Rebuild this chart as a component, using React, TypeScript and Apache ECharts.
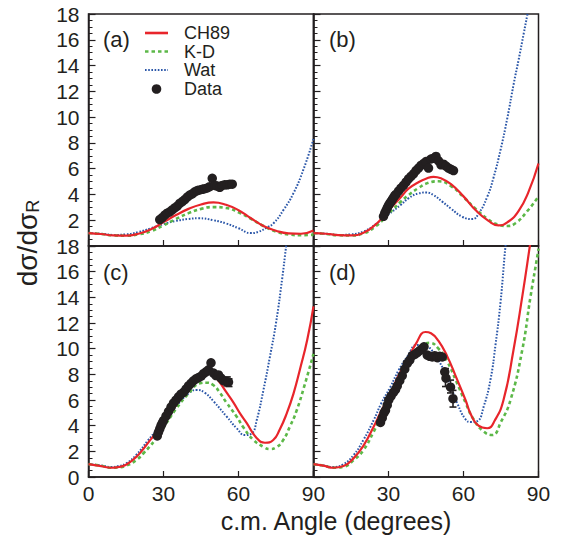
import React, { useEffect, useRef } from 'react';
import * as echarts from 'echarts';

// Panel (a)
const ch89A = [[0,1.0],[5,0.93],[10,0.82],[15,0.8],[20,0.95],[25,1.3],[30,1.85],[35,2.4],[40,2.88],[45,3.22],[50,3.38],[55,3.2],[60,2.78],[65,2.15],[70,1.55],[75,1.18],[80,0.98],[85,0.95],[90,1.2]];
const kdA = [[0,1.0],[5,0.93],[10,0.82],[15,0.8],[20,0.9],[25,1.15],[30,1.6],[35,2.1],[40,2.55],[45,2.88],[50,3.02],[55,2.95],[60,2.62],[65,2.1],[70,1.55],[75,1.12],[80,0.9],[85,0.84],[90,0.88]];
const watA = [[0,1.0],[5,0.95],[10,0.86],[15,0.9],[20,1.08],[25,1.38],[30,1.7],[35,1.95],[40,2.1],[44,2.15],[50,2.0],[55,1.75],[60,1.38],[65,1.0],[68,1.1],[71,1.4],[74,1.76],[78,2.8],[82,4.1],[86,5.95],[90,8.3]];
const dataA = [[28.5,2.05],[29.5,2.2],[30.5,2.4],[31.5,2.55],[32.5,2.65],[33.5,2.8],[34.5,2.95],[35.5,3.1],[36.5,3.3],[37.5,3.45],[38.5,3.6],[39.5,3.8],[40.5,3.95],[41.5,4.05],[42.5,4.2],[43.5,4.3],[44.5,4.35],[45.5,4.4],[46.5,4.45],[47.5,4.5],[48.5,4.6],[49.5,5.25],[50.5,4.7],[51.5,4.65],[52.5,4.55],[53.5,4.7],[54.5,4.75],[55.5,4.75],[56.5,4.8],[57.5,4.8]];
const errA: number[][] = [];

// Panel (b)
const ch89B = [[0,1.0],[5,0.95],[10,0.85],[15,0.83],[20,1.02],[25,1.7],[27.5,2.2],[30,2.75],[35,3.8],[38,4.45],[42,4.95],[45,5.22],[48,5.37],[51,5.25],[55,4.8],[60,3.85],[65,2.75],[70,1.95],[74,1.6],[78,1.9],[82,2.7],[86,4.2],[90,6.4]];
const kdB = [[0,1.0],[5,0.93],[10,0.83],[15,0.82],[20,0.98],[25,1.55],[30,2.5],[35,3.45],[38,3.95],[42,4.5],[46,4.9],[50,5.02],[55,4.65],[60,3.8],[65,2.85],[70,2.05],[74,1.65],[77.5,1.55],[81,1.8],[85.5,2.7],[90,3.85]];
const watB = [[0,1.0],[5,0.95],[10,0.86],[15,0.9],[20,1.12],[25,1.7],[30,2.45],[35,3.2],[38,3.7],[42,4.08],[45,4.15],[48,3.95],[51.5,3.44],[55,2.9],[59.5,2.27],[63.5,2.09],[66,2.5],[69.5,3.82],[72,5.3],[74.8,7.44],[77.5,9.9],[80.1,12.6],[82,14.4],[84.1,16.5],[85.5,17.9],[87,19.4]];
const dataB = [[28,2.3],[28.5,2.55],[29,2.75],[29.5,2.95],[30,3.15],[30.5,3.3],[31,3.45],[31.5,3.6],[32,3.75],[32.5,3.9],[33,4.0],[34,4.25],[35,4.5],[36,4.7],[37,4.95],[38,5.2],[39,5.4],[40,5.6],[41,5.85],[42,6.05],[43,6.25],[44,6.4],[45,6.55],[46,6.05],[47,6.75],[48,6.8],[49,6.95],[50,6.6],[51,6.3],[52,6.35],[53,6.2],[54,6.05],[55,5.95],[56,5.85]];
const errB: number[][] = [];

// Panel (c)
const ch89C = [[0,1.0],[5,0.85],[9,0.72],[12,0.78],[15,0.95],[19,1.55],[22,2.2],[25,2.95],[28,3.6],[30,4.1],[35,5.6],[40,6.9],[45,7.8],[49,8.1],[52,7.5],[55,6.65],[58,5.8],[60.6,4.96],[63.3,4.2],[67,3.1],[70.6,2.67],[73.9,2.88],[76.5,3.7],[79.3,4.96],[82,6.5],[84.6,8.4],[87.5,10.7],[90,13.3]];
const kdC = [[0,1.0],[5,0.88],[9,0.72],[12,0.75],[15,0.88],[19,1.3],[22,1.85],[26.6,2.88],[30,3.85],[35,5.3],[40,6.5],[44.6,7.3],[47,7.35],[50,7.15],[52.6,6.55],[55,5.85],[59.3,4.7],[62,3.85],[65.9,2.9],[70,2.35],[72.6,2.18],[75,2.3],[77.9,2.88],[80.5,3.9],[83.3,5.2],[86.5,7.2],[90,9.6]];
const watC = [[0,1.0],[5,0.9],[9,0.78],[12,0.85],[15,1.05],[19,1.7],[23.9,2.88],[27,3.6],[30,4.3],[35,5.5],[40.6,6.6],[43.3,6.78],[46.6,6.55],[50,5.9],[55.3,4.7],[59.3,3.79],[62.6,3.27],[65.3,3.4],[67.3,4.44],[70,6.8],[72.5,9.3],[75,12.0],[77.5,15.5],[79,17.9],[80,19.4]];
const dataC = [[27.5,3.2],[28,3.5],[28.5,3.75],[29,4.0],[29.5,4.2],[30,4.4],[31,4.75],[32,5.1],[33,5.45],[34,5.75],[35,6.0],[36,6.25],[37,6.45],[38,6.6],[39,6.85],[40,7.1],[41,7.3],[42,7.5],[43,7.65],[44,7.75],[45,7.85],[46,8.05],[47,8.2],[48,8.35],[49,8.9],[50,8.1],[51,7.9],[52,7.95],[53,7.7],[54,7.5],[55,7.45],[56,7.4]];
const errC = [[55.5,7.45,0.35],[56.2,7.35,0.3]];

// Panel (d)
const ch89D = [[0,1.0],[4,0.88],[8,0.72],[12,0.85],[16,1.45],[20,2.45],[24,3.9],[27,5.1],[30.8,6.5],[34,7.9],[37.5,9.1],[41,10.4],[44.8,11.3],[47,11.2],[50,10.6],[53.5,9.4],[57,7.8],[60.8,6.0],[63,4.85],[66,4.0],[69.5,3.8],[72.5,4.4],[76,6.0],[80,9.9],[83.5,14.05],[86.5,17.95],[88,20]];
const kdD = [[0,1.0],[4,0.88],[8,0.72],[12,0.8],[16,1.3],[20,2.1],[24,3.5],[27,4.75],[30.8,6.3],[34,7.6],[37.5,8.8],[41,9.8],[44,10.35],[46.5,10.45],[50,10.0],[53.5,9.0],[57,7.5],[60.8,5.8],[64,4.5],[68,3.55],[71.5,3.27],[75,4.3],[78.8,6.0],[83.5,9.9],[86.8,14.05],[89.7,17.4],[90,17.8]];
const watD = [[0,1.0],[4,0.9],[8,0.78],[12,1.0],[16,1.7],[20,2.9],[24.1,4.44],[27,5.7],[30.8,7.04],[34,8.3],[37.5,9.38],[41.5,10.29],[45.5,10.16],[48.5,9.5],[52.1,8.34],[55,7.0],[57.5,5.74],[60.8,4.5],[63,4.28],[65.5,4.35],[68.1,5.5],[70.8,7.6],[72.8,10.3],[74.8,13.6],[76.8,18],[78,20]];
const dataD = [[26.8,4.25],[27.5,4.6],[28.2,5.0],[28.8,5.2],[29.5,5.6],[30.1,6.0],[31,6.3],[32,6.6],[32.8,6.8],[33.5,7.1],[34.5,7.5],[35.5,7.9],[36.5,8.4],[37.5,8.85],[38.5,9.1],[39.5,9.45],[40.5,9.55],[41.5,9.7],[42.5,9.85],[43.5,10.0],[44.2,10.15],[45.5,9.5],[46.5,9.4],[47.5,9.35],[48.5,9.45],[49.5,9.3],[50.5,9.4],[51.5,9.35],[52.5,8.2],[53,7.7],[54.8,7.0],[55.8,6.1]];
const errD = [[52.8,7.75,0.7],[54.8,7.05,0.5],[55.8,6.1,0.65]];

const xTicks = [0, 30, 60, 90];
const yTicks = [0, 2, 4, 6, 8, 10, 12, 14, 16, 18];
const panelLabels = ['(a)', '(b)', '(c)', '(d)'];
const legendNames = ['CH89', 'K-D', 'Wat', 'Data'];

const INK = '#231f20';
const RED = '#e8252b';
const GREEN = '#5cb848';
const BLUE = '#2a56a8';
const FONT = 'Liberation Sans, Arial, Helvetica, sans-serif';

export default function App() {
  const ref = useRef<HTMLDivElement>(null);
  useEffect(() => {
    const chart = echarts.init(ref.current!, null, { renderer: 'svg' });
    const panels = [
      { left: 88.5, top: 14, height: 232, xLabels: false, yLabels: true, hideX0: false, hideY0: true, ch: ch89A, kd: kdA, wat: watA, data: dataA, err: errA },
      { left: 313.5, top: 14, height: 232, xLabels: false, yLabels: false, hideX0: false, hideY0: false, ch: ch89B, kd: kdB, wat: watB, data: dataB, err: errB },
      { left: 88.5, top: 246, height: 231, xLabels: true, yLabels: true, hideX0: false, hideY0: false, ch: ch89C, kd: kdC, wat: watC, data: dataC, err: errC },
      { left: 313.5, top: 246, height: 231, xLabels: true, yLabels: false, hideX0: true, hideY0: false, ch: ch89D, kd: kdD, wat: watD, data: dataD, err: errD },
    ];
    const grid = panels.map(p => ({
      left: p.left, top: p.top, width: 225, height: p.height,
      show: true, borderColor: INK, borderWidth: 1.5, backgroundColor: 'transparent',
    }));
    const xAxis = panels.map((p, i) => ({
      type: 'value', gridIndex: i, min: xTicks[0], max: xTicks[xTicks.length - 1], interval: 30,
      axisLine: { show: true, lineStyle: { color: INK, width: 1.5 } },
      axisTick: { show: true, inside: true, length: 6, lineStyle: { color: INK, width: 1.2 } },
      splitLine: { show: false },
      axisLabel: {
        show: p.xLabels, color: INK, fontSize: 21, fontFamily: FONT, margin: 6,
        formatter: (v: number) => (p.hideX0 && v === 0 ? '' : String(v)),
      },
    }));
    const yAxis = panels.map((p, i) => ({
      type: 'value', gridIndex: i, min: yTicks[0], max: yTicks[yTicks.length - 1], interval: 2,
      axisLine: { show: true, lineStyle: { color: INK, width: 1.5 } },
      axisTick: { show: true, inside: true, length: 7, lineStyle: { color: INK, width: 1.2 } },
      minorTick: { show: true, splitNumber: 4, length: 4, lineStyle: { color: INK, width: 1 } },
      splitLine: { show: false },
      axisLabel: {
        show: p.yLabels, color: INK, fontSize: 21, fontFamily: FONT, margin: 9,
        formatter: (v: number) => (p.hideY0 && v === 0 ? '' : String(v)),
      },
    }));
    const series: any[] = [];
    panels.forEach((p, i) => {
      series.push({
        type: 'line', xAxisIndex: i, yAxisIndex: i, data: p.wat, showSymbol: false, smooth: 0.5, clip: true, z: 2,
        lineStyle: { color: BLUE, width: 2, type: [1.6, 1.6] },
      });
      series.push({
        type: 'line', xAxisIndex: i, yAxisIndex: i, data: p.kd, showSymbol: false, smooth: 0.5, clip: true, z: 3,
        lineStyle: { color: GREEN, width: 2.6, type: [3.5, 3] },
      });
      series.push({
        type: 'line', xAxisIndex: i, yAxisIndex: i, data: p.ch, showSymbol: false, smooth: 0.5, clip: true, z: 4,
        lineStyle: { color: RED, width: 2.2 },
      });
      series.push({
        type: 'scatter', xAxisIndex: i, yAxisIndex: i, data: p.data, symbol: 'circle', symbolSize: 9.5, z: 5,
        itemStyle: { color: INK, opacity: 1 },
      });
      if (p.err.length) {
        series.push({
          type: 'custom', xAxisIndex: i, yAxisIndex: i, data: p.err, z: 6,
          encode: { x: 0, y: 1 },
          renderItem: (params: any, api: any) => {
            const x = api.value(0), y = api.value(1), e = api.value(2);
            const t = api.coord([x, y + e]);
            const b = api.coord([x, y - e]);
            const hw = 3.5;
            const st = { stroke: INK, lineWidth: 1.6 };
            return {
              type: 'group', children: [
                { type: 'line', shape: { x1: t[0], y1: t[1], x2: b[0], y2: b[1] }, style: st },
                { type: 'line', shape: { x1: t[0] - hw, y1: t[1], x2: t[0] + hw, y2: t[1] }, style: st },
                { type: 'line', shape: { x1: b[0] - hw, y1: b[1], x2: b[0] + hw, y2: b[1] }, style: st },
              ],
            };
          },
        });
      }
    });

    const labelPos = [[103, 39], [329, 39], [103, 272], [329, 272]];
    const graphic: any[] = panelLabels.map((t, i) => ({
      type: 'text', x: labelPos[i][0], y: labelPos[i][1], z: 10,
      style: { text: t, fontSize: 22, fontFamily: FONT, fill: INK, verticalAlign: 'middle', align: 'left' },
    }));
    const legRows = [33, 51.5, 70, 89];
    const legStyles = [
      { stroke: RED, lineWidth: 2.6 },
      { stroke: GREEN, lineWidth: 2.6, lineDash: [3.5, 3] },
      { stroke: BLUE, lineWidth: 2, lineDash: [1.6, 1.6] },
    ];
    legStyles.forEach((s, k) => {
      graphic.push({ type: 'line', z: 10, shape: { x1: 145, y1: legRows[k], x2: 168, y2: legRows[k] }, style: s });
    });
    graphic.push({ type: 'circle', z: 10, shape: { cx: 156.5, cy: legRows[3], r: 4.8 }, style: { fill: INK } });
    legendNames.forEach((n, k) => {
      graphic.push({
        type: 'text', x: 184, y: legRows[k], z: 10,
        style: { text: n, fontSize: 18, lineHeight: 18, fontFamily: FONT, fill: INK, verticalAlign: 'middle', align: 'left' },
      });
    });
    graphic.push({
      type: 'text', x: 27, y: 243, rotation: Math.PI / 2, z: 10,
      style: {
        text: 'dσ/dσ{s|R}', fontSize: 28, fontFamily: FONT, fill: INK, align: 'center', verticalAlign: 'middle',
        rich: { s: { fontSize: 18, fontFamily: FONT, fill: INK, verticalAlign: 'bottom', padding: [11, 0, 0, 0] } },
      },
    });
    graphic.push({
      type: 'text', x: 336, y: 521, z: 10,
      style: { text: 'c.m. Angle (degrees)', fontSize: 25, fontFamily: FONT, fill: INK, align: 'center', verticalAlign: 'middle' },
    });

    chart.setOption({
      animation: false,
      backgroundColor: '#ffffff',
      grid, xAxis, yAxis, series, graphic,
    });
    return () => chart.dispose();
  }, []);
  return <div ref={ref} style={{ position: 'absolute', left: 0, top: 0, width: 565, height: 540 }} />;
}
